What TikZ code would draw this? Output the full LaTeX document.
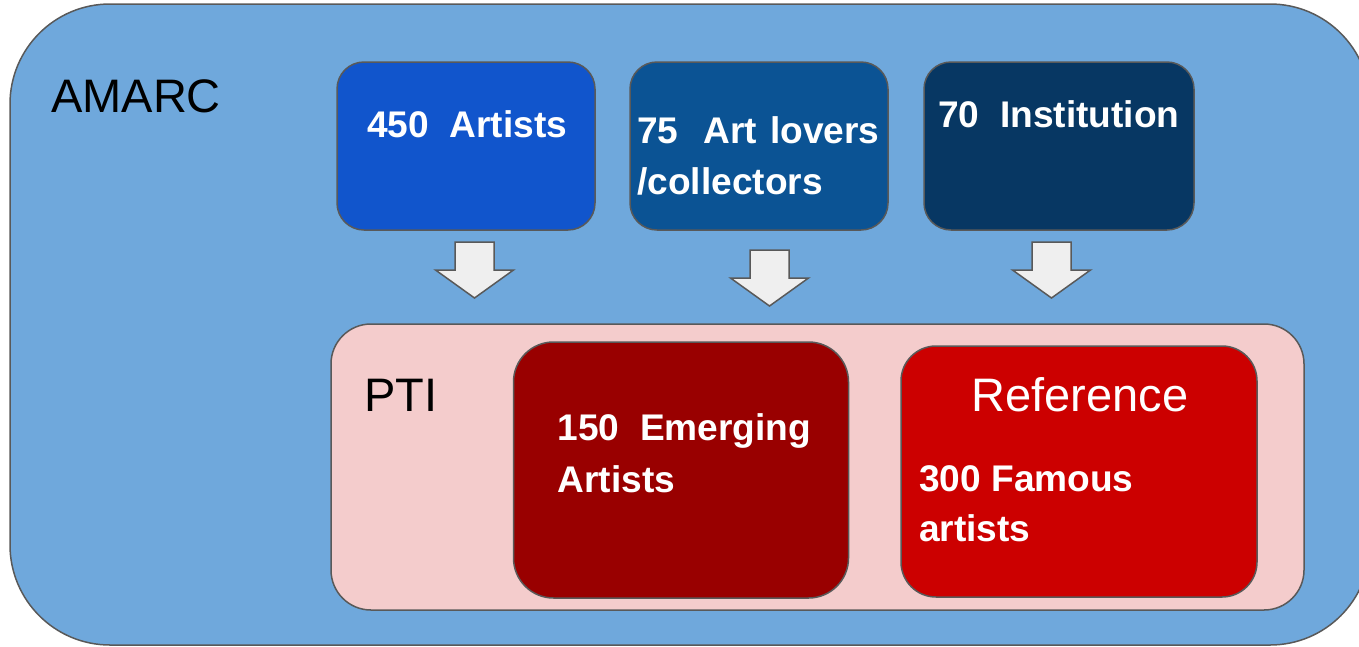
\documentclass[tikz,border=0pt]{standalone}
\usepackage{fontspec}
\setmainfont{Liberation Sans}
\definecolor{amarcblue}{HTML}{6FA8DC}
\definecolor{artistblue}{HTML}{1155CC}
\definecolor{loverblue}{HTML}{0B5394}
\definecolor{instblue}{HTML}{073763}
\definecolor{ptipink}{HTML}{F4CCCC}
\definecolor{emergred}{HTML}{990000}
\definecolor{famousred}{HTML}{CC0000}
\definecolor{edgegray}{HTML}{595959}
\definecolor{arrowgray}{HTML}{EFEFEF}

\begin{document}
\begin{tikzpicture}[x=1pt,y=-1pt]
   \tikzset{BoxStyle/.style={draw=edgegray, line width=1.5pt, rounded corners=27pt, inner sep=0pt}}
   \tikzset{BigText/.style={font=\fontsize{47}{56}\selectfont, inner sep=0pt, text=black}}
   \tikzset{CountText/.style={font=\fontsize{37.1}{44}\selectfont\bfseries, inner sep=0pt, text=white, anchor=base west}}
   \tikzset{ArrowStyle/.style={draw=edgegray, fill=arrowgray, line width=1.5pt}}
   \useasboundingbox (0,0) rectangle (1359,646);
   \clip (0,0) rectangle (1359,646);
   \node[BoxStyle, rounded corners=100pt, fill=amarcblue, minimum width=1360pt, minimum height=641pt] (AMARC) at (690,324.5) {};
   \node[BigText, anchor=base west] (amarcT) at (51,112) {AMARC};
   \node[BoxStyle, fill=artistblue, minimum width=258pt, minimum height=168pt] (Artists) at (466,146) {};
   \node[BoxStyle, fill=loverblue, minimum width=258pt, minimum height=168pt] (Lovers) at (759,146) {};
   \node[BoxStyle, fill=instblue, minimum width=270pt, minimum height=168pt] (Inst) at (1059,146) {};
   \node[CountText] (artistsT) at (367,137) {450\ \ Artists};
   \node[CountText] (loversT) at (637,143) {75\hspace{25pt}Art\hspace{13pt}lovers};
   \node[CountText] (loversT2) at (637,194) {/collectors};
   \node[CountText] (instT) at (938,127) {70\ \ Institution};
   \foreach \ax/\ay in {474.5/242, 769.5/250, 1051.5/242}
      \draw[ArrowStyle] (\ax-19.5,\ay) -- (\ax+19.5,\ay) -- (\ax+19.5,\ay+28) -- (\ax+39,\ay+28)
         -- (\ax,\ay+56) -- (\ax-39,\ay+28) -- (\ax-19.5,\ay+28) -- cycle;
   \node[BoxStyle, rounded corners=40pt, fill=ptipink, minimum width=973pt, minimum height=286pt] (PTI) at (817.5,467) {};
   \node[BigText, anchor=base west] (ptiT) at (364,411) {PTI};
   \node[BoxStyle, rounded corners=40pt, fill=emergred, minimum width=335pt, minimum height=256pt] (Emerging) at (681,470) {};
   \node[BoxStyle, rounded corners=35pt, fill=famousred, minimum width=356pt, minimum height=251pt] (Reference) at (1079,471.5) {};
   \node[CountText] (emergT) at (557.5,440) {150\ \ Emerging};
   \node[CountText] (emergT2) at (557.5,492) {Artists};
   \node[BigText, anchor=base, text=white] (refT) at (1080,411) {Reference};
   \node[CountText] (famousT) at (919,491) {300 Famous};
   \node[CountText] (famousT2) at (919,541) {artists};
\end{tikzpicture}
\end{document}
